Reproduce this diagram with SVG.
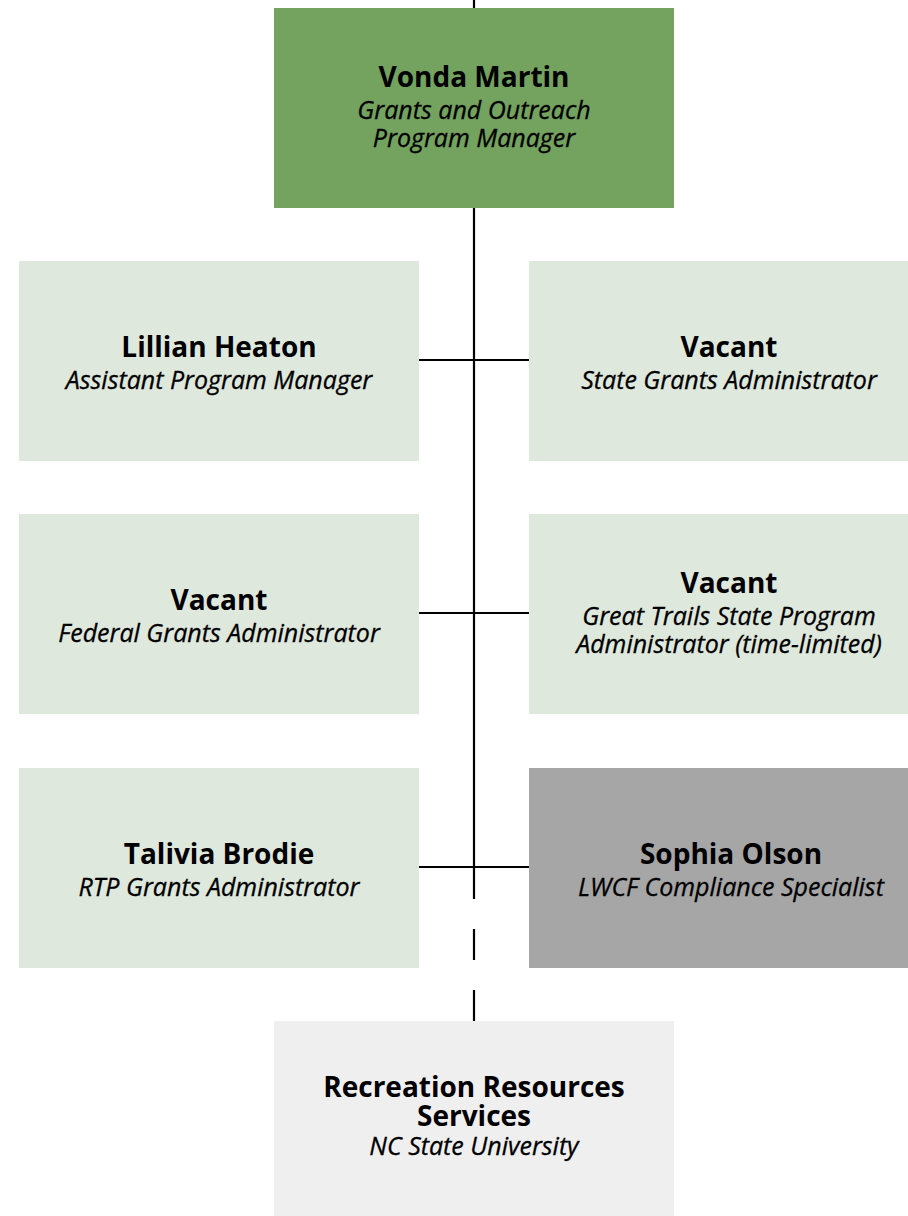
<svg xmlns="http://www.w3.org/2000/svg" width="908" height="1216" viewBox="0 0 908 1216">
<style>
.name{font-family:"Open Sans","Liberation Sans",sans-serif;font-weight:bold;font-size:28px;fill:#000;text-anchor:middle}
.role{font-family:"Open Sans","Liberation Sans",sans-serif;font-style:italic;font-size:25px;fill:#000;text-anchor:middle;stroke:#000;stroke-width:0.3}
.ln{stroke:#000;stroke-width:2.2;fill:none}
.lg{fill:#DFE8DC}
</style>
<rect width="908" height="1216" fill="#fff"/>
<g id="connectors">
<line class="ln" x1="474" y1="0" x2="474" y2="899"/>
<line class="ln" x1="474" y1="929" x2="474" y2="960"/>
<line class="ln" x1="474" y1="990" x2="474" y2="1021"/>
<line class="ln" x1="419" y1="360" x2="529" y2="360"/>
<line class="ln" x1="419" y1="613" x2="529" y2="613"/>
<line class="ln" x1="419" y1="867" x2="529" y2="867"/>
</g>
<g id="vonda">
<rect x="274" y="8" width="400" height="200" fill="#74A25F"/>
<text class="name" x="474" y="87">Vonda Martin</text>
<text class="role" x="474" y="119">Grants and Outreach</text>
<text class="role" x="474" y="147">Program Manager</text>
</g>
<g id="lillian">
<rect class="lg" x="19" y="261" width="400" height="200"/>
<text class="name" x="219" y="357">Lillian Heaton</text>
<text class="role" x="219" y="389">Assistant Program Manager</text>
</g>
<g id="state-grants">
<rect class="lg" x="529" y="261" width="400" height="200"/>
<text class="name" x="729" y="357">Vacant</text>
<text class="role" x="729" y="389">State Grants Administrator</text>
</g>
<g id="federal-grants">
<rect class="lg" x="19" y="514" width="400" height="200"/>
<text class="name" x="219" y="610">Vacant</text>
<text class="role" x="219" y="642">Federal Grants Administrator</text>
</g>
<g id="great-trails">
<rect class="lg" x="529" y="514" width="400" height="200"/>
<text class="name" x="729" y="593">Vacant</text>
<text class="role" x="729" y="625">Great Trails State Program</text>
<text class="role" x="729" y="653">Administrator (time-limited)</text>
</g>
<g id="talivia">
<rect class="lg" x="19" y="768" width="400" height="200"/>
<text class="name" x="219" y="864">Talivia Brodie</text>
<text class="role" x="219" y="896">RTP Grants Administrator</text>
</g>
<g id="sophia">
<rect x="529" y="768" width="400" height="200" fill="#A6A6A6"/>
<text class="name" x="731" y="864">Sophia Olson</text>
<text class="role" x="731" y="896">LWCF Compliance Specialist</text>
</g>
<g id="rrs">
<rect x="274" y="1021" width="400" height="200" fill="#EFEFEF"/>
<text class="name" x="474" y="1097">Recreation Resources</text>
<text class="name" x="474" y="1126">Services</text>
<text class="role" x="474" y="1155">NC State University</text>
</g>
</svg>
